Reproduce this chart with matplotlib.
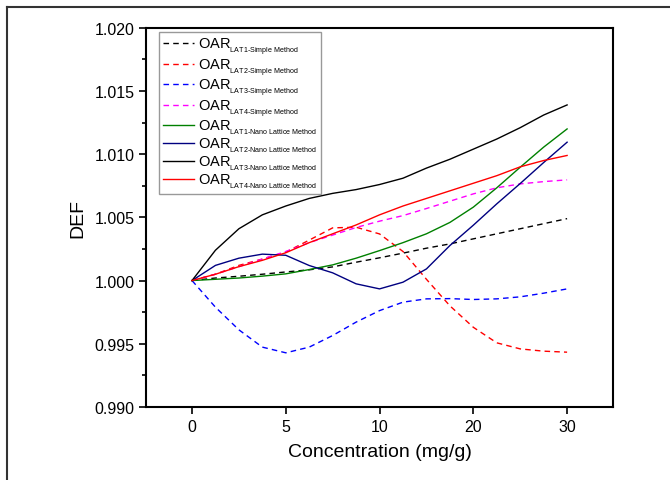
import matplotlib
matplotlib.use("Agg")
import matplotlib.pyplot as plt
from matplotlib.lines import Line2D
from matplotlib.ticker import MultipleLocator, AutoMinorLocator

plt.rcParams['font.family'] = ['Liberation Sans', 'DejaVu Sans']
plt.rcParams['mathtext.fontset'] = 'custom'
plt.rcParams['mathtext.rm'] = 'Liberation Sans'
plt.rcParams['mathtext.it'] = 'Liberation Sans'

# x positions in tick-index units (ticks 0,5,10,20,30 are evenly spaced)
xpos = [0, 0.25, 0.5, 0.75, 1, 1.25, 1.5, 1.75, 2, 2.25, 2.5, 2.75, 3, 3.25, 3.5, 3.75, 4]
tick_pos = [0, 1, 2, 3, 4]
tick_labels = ["0", "5", "10", "20", "30"]

# values at each xpos
lat1_simple = [1.0000, 1.0002, 1.00034, 1.0005, 1.00068, 1.00085, 1.00108, 1.00145, 1.0018,
               1.00217, 1.00256, 1.0029, 1.0033, 1.0037, 1.0041, 1.0045, 1.0049]
lat2_simple = [1.0000, 1.0005, 1.0012, 1.0017, 1.00225, 1.0032, 1.00417, 1.00422, 1.00369,
               1.0023, 1.0001, 0.9980, 0.9963, 0.99507, 0.99459, 0.99441, 0.99433]
lat3_simple = [1.0000, 0.99789, 0.9961, 0.99473, 0.99428, 0.99473, 0.99565, 0.99671, 0.99762,
               0.99829, 0.99855, 0.99857, 0.9985, 0.99855, 0.99871, 0.999, 0.99934]
lat4_simple = [1.0000, 1.0005, 1.0011, 1.0017, 1.0023, 1.0030, 1.0036, 1.0042, 1.0047,
               1.00514, 1.0057, 1.00628, 1.00686, 1.00734, 1.00765, 1.00783, 1.00797]
lat1_nano = [1.0000, 1.0001, 1.0002, 1.00035, 1.00053, 1.00087, 1.00124, 1.00177, 1.00237,
             1.0030, 1.0037, 1.0046, 1.00581, 1.00734, 1.00897, 1.01056, 1.012]
lat2_nano = [1.0000, 1.0012, 1.00177, 1.00209, 1.0020, 1.00119, 1.00061, 0.99974, 0.99934,
             0.99987, 1.00092, 1.00277, 1.00438, 1.00607, 1.00768, 1.00934, 1.01095]
lat3_nano = [1.0000, 1.0024, 1.0041, 1.0052, 1.0059, 1.0065, 1.0069, 1.0072, 1.0076,
             1.0081, 1.0089, 1.0096, 1.0104, 1.0112, 1.0121, 1.0131, 1.0139]
lat4_nano = [1.0000, 1.0005, 1.0011, 1.0016, 1.0022, 1.0030, 1.0037, 1.0044, 1.0052,
             1.0059, 1.0065, 1.0071, 1.0077, 1.0083, 1.0090, 1.0095, 1.0099]

series = [
    (lat1_simple, "black", "--", "LAT1-Simple Method"),
    (lat2_simple, "red", "--", "LAT2-Simple Method"),
    (lat3_simple, "blue", "--", "LAT3-Simple Method"),
    (lat4_simple, "magenta", "--", "LAT4-Simple Method"),
    (lat1_nano, "green", "-", "LAT1-Nano Lattice Method"),
    (lat2_nano, "navy", "-", "LAT2-Nano Lattice Method"),
    (lat3_nano, "black", "-", "LAT3-Nano Lattice Method"),
    (lat4_nano, "red", "-", "LAT4-Nano Lattice Method"),
]

fig = plt.figure(figsize=(6.7, 4.81), dpi=100)
ax = fig.add_axes([0.218, 0.152, 0.697, 0.788])

for vals, col, ls, sub in series:
    style = (0, (4, 3)) if ls == "--" else "-"
    sub_tex = sub.replace("-", "\\text{-}").replace(" ", "\\ ")
    ax.plot(xpos, vals, color=col, linestyle=style, linewidth=1.0,
            label="OAR$_{{}_{\\mathrm{" + sub_tex + "}}}$")

ax.set_xlim(-0.49, 4.49)
ax.set_ylim(0.990, 1.020)
ax.set_xticks(tick_pos)
ax.set_xticklabels(tick_labels)
ax.yaxis.set_major_locator(MultipleLocator(0.005))
ax.yaxis.set_minor_locator(AutoMinorLocator(2))
ax.yaxis.set_major_formatter(plt.FormatStrFormatter("%.3f"))
ax.tick_params(axis="both", which="major", direction="out", length=5, width=1.2,
               labelsize=11.5)
ax.tick_params(axis="y", which="minor", direction="out", length=3, width=1.2)
for s in ax.spines.values():
    s.set_linewidth(1.5)

ax.set_xlabel("Concentration (mg/g)", fontsize=14, labelpad=7)
ax.set_ylabel("DEF", fontsize=14, labelpad=6)

leg = ax.legend(loc="upper left", bbox_to_anchor=(0.022, 0.997), fontsize=10.5,
                frameon=True, fancybox=False, edgecolor="gray",
                handlelength=2.1, handletextpad=0.3, labelspacing=0.0,
                borderpad=0.25, borderaxespad=0.2)
leg.get_frame().set_linewidth(1.0)

# outer frame lines (top and left) of the original picture
fig.add_artist(Line2D([7/670, 1.0], [1 - 8/481, 1 - 8/481], color="#333333", lw=1.5,
                      transform=fig.transFigure))
fig.add_artist(Line2D([7/670, 7/670], [0, 1 - 8/481], color="#333333", lw=1.5,
                      transform=fig.transFigure))

fig.savefig("out.png", dpi=100)
